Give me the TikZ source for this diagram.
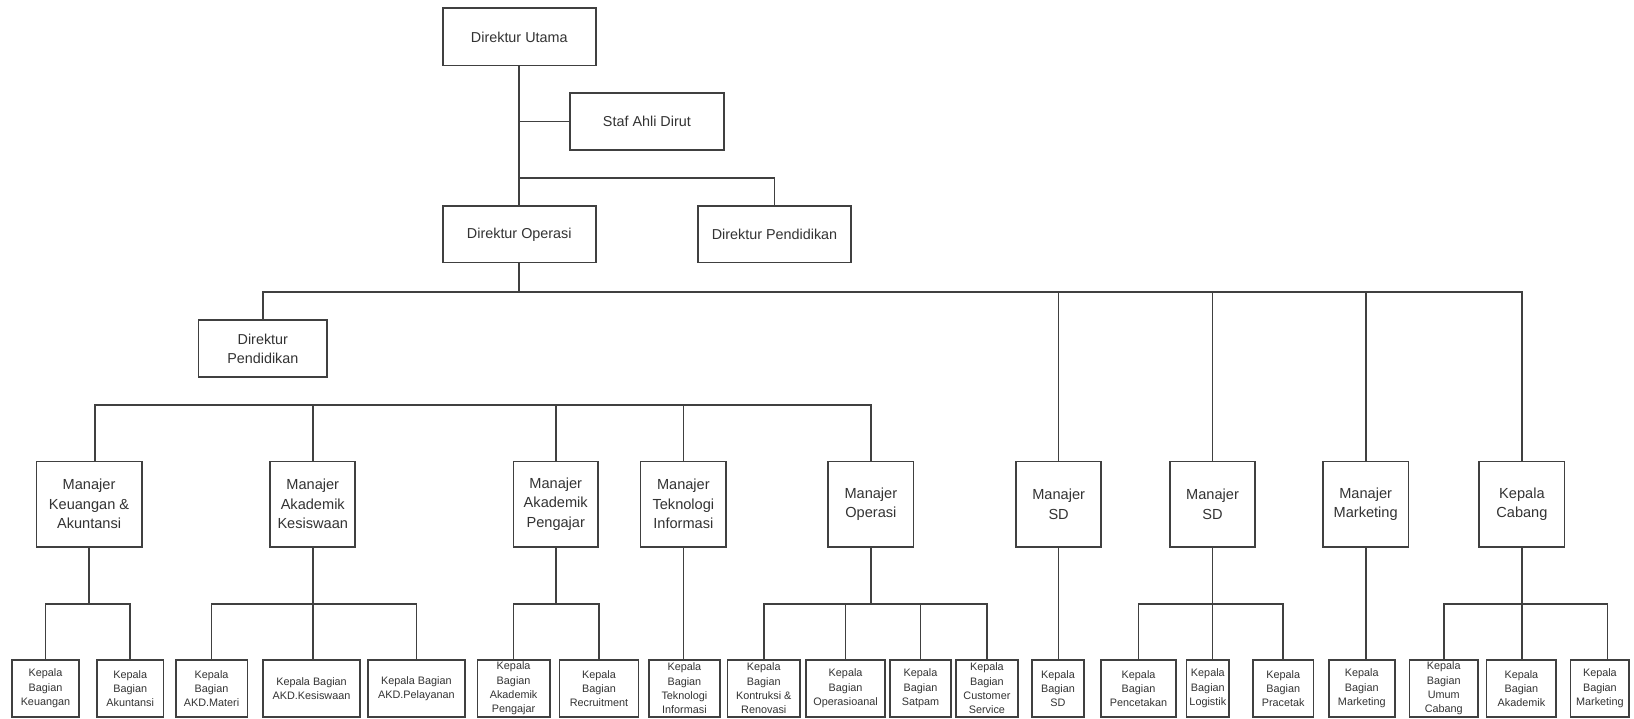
\documentclass[tikz,border=0pt]{standalone}
\usepackage{fontspec}
\setmainfont{Liberation Sans}
\tikzset{
  line/.style={draw=black!75, line width=1.6pt},
  box/.style={rectangle, draw=black!75, line width=1.6pt, fill=white, inner sep=0pt, align=center, text=black!80},
  topbox/.style={box, font=\fontsize{13.8}{18.2}\selectfont},
  mgr/.style={box, font=\fontsize{14}{18.7}\selectfont},
  kb/.style={box, font=\fontsize{10.4}{13.6}\selectfont},
}
\newcommand{\bx}[7]{\node[#1, minimum width={(#5)-(#3)}, minimum height={(#6)-(#4)}] (#2) at ({((#3)+(#5))/2},{((#4)+(#6))/2}) {#7};}
\begin{document}
\begin{tikzpicture}[x=1pt,y=-1pt]
\useasboundingbox (0,0) rectangle (1568.6,690.2);
% top level
\bx{topbox}{du}{425}{8}{572}{63}{Direktur Utama}
\bx{topbox}{staf}{547}{89}{695}{144}{Staf Ahli Dirut}
\bx{topbox}{dops}{425}{198}{572}{252}{Direktur Operasi}
\bx{topbox}{dpen}{670}{198}{817}{252}{Direktur Pendidikan}
\bx{topbox}{dpenb}{190.6}{307}{314}{362}{Direktur\\Pendidikan}
% managers
\bx{mgr}{mku}{35}{443}{136}{525}{Manajer\\Keuangan \&\\Akuntansi}
\bx{mgr}{mkes}{259.5}{443}{341}{525}{Manajer\\Akademik\\Kesiswaan}
\bx{mgr}{mpen}{493}{443}{574}{525}{Manajer\\Akademik\\Pengajar}
\bx{mgr}{mti}{615}{443}{697}{525}{Manajer\\Teknologi\\Informasi}
\bx{mgr}{mops}{795}{443}{877}{525}{Manajer\\Operasi}
\bx{mgr}{msda}{975.5}{443}{1057}{525}{Manajer\\SD}
\bx{mgr}{msdb}{1123}{443}{1205}{525}{Manajer\\SD}
\bx{mgr}{mmkt}{1270}{443}{1352}{525}{Manajer\\Marketing}
\bx{mgr}{kcab}{1420}{443}{1502}{525}{Kepala\\Cabang}
% bottom row
\bx{kb}{ka}{11.5}{633.6}{75.8}{688}{Kepala\\Bagian\\Keuangan}
\bx{kb}{kbb}{93}{633.6}{157}{688}{Kepala\\Bagian\\Akuntansi}
\bx{kb}{kc}{168.7}{633.6}{237.5}{688}{Kepala\\Bagian\\AKD.Materi}
\bx{kb}{kd}{252.5}{633.6}{345.6}{688}{Kepala Bagian\\AKD.Kesiswaan}
\bx{kb}{ke}{353}{633.6}{446.4}{688}{Kepala Bagian\\AKD.Pelayanan}
\bx{kb}{kf}{458.4}{633.6}{527.7}{688}{Kepala\\Bagian\\Akademik\\Pengajar}
\bx{kb}{kg}{537}{633.6}{613}{688}{Kepala\\Bagian\\Recruitment}
\bx{kb}{kh}{623}{633.6}{691}{688}{Kepala\\Bagian\\Teknologi\\Informasi}
\bx{kb}{ki}{698.4}{633.6}{768}{688}{Kepala\\Bagian\\Kontruksi \&\\Renovasi}
\bx{kb}{kj}{774}{633.6}{849.5}{688}{Kepala\\Bagian\\Operasioanal}
\bx{kb}{kk}{854.5}{633.6}{912.8}{688}{Kepala\\Bagian\\Satpam}
\bx{kb}{kl}{917.8}{633.6}{977}{688}{Kepala\\Bagian\\Customer\\Service}
\bx{kb}{km}{990.5}{633.6}{1040.8}{688}{Kepala\\Bagian\\SD}
\bx{kb}{kn}{1057}{633.6}{1129}{688}{Kepala\\Bagian\\Pencetakan}
\bx{kb}{ko}{1139}{633.6}{1180}{688}{Kepala\\Bagian\\Logistik}
\bx{kb}{kp}{1202.7}{633.6}{1261}{688}{Kepala\\Bagian\\Pracetak}
\bx{kb}{kq}{1275.5}{633.6}{1339}{688}{Kepala\\Bagian\\Marketing}
\bx{kb}{kr}{1353}{633.6}{1419}{688}{Kepala\\Bagian\\Umum\\Cabang}
\bx{kb}{ks}{1427}{633.6}{1494}{688}{Kepala\\Bagian\\Akademik}
\bx{kb}{kt}{1507.7}{633.6}{1564}{688}{Kepala\\Bagian\\Marketing}
% connectors: top
\draw[line] (du.south) -- (dops.north);
\draw[line] (du.south |- staf.west) -- (staf.west);
\coordinate (jdp) at (498.5,171);
\draw[line] (jdp) -| (dpen.north);
\coordinate (busL) at (252.3,280);
\draw[line] (dops.south) -- (dops.south |- busL);
\draw[line] (dpenb.north) |- (kcab.north |- busL) -- (kcab.north);
\foreach \n in {msda,msdb,mmkt} \draw[line] (\n.north) -- (\n.north |- busL);
% managers bus
\coordinate (mbL) at (91,389);
\draw[line] (mbL |- mku.north) -- (mbL) -| (mops.north);
\foreach \n in {mkes,mpen,mti} \draw[line] (\n.north) -- (\n.north |- mbL);
% sub buses
\coordinate (sb) at (0,580);
\draw[line] (mku.south) -- (mku.south |- sb);
\draw[line] (ka.north) |- (kbb.north |- sb) -- (kbb.north);
\draw[line] (mkes.south) -- (mkes.south |- kd.north);
\draw[line] (kc.north) |- (ke.north |- sb) -- (ke.north);
\draw[line] (mpen.south) -- (mpen.south |- sb);
\draw[line] (kf.north) |- (kg.north |- sb) -- (kg.north);
\draw[line] (mti.south) -- (mti.south |- kh.north);
\draw[line] (mops.south) -- (mops.south |- sb);
\draw[line] (ki.north) |- (kl.north |- sb) -- (kl.north);
\draw[line] (kj.north) -- (kj.north |- sb);
\draw[line] (kk.north) -- (kk.north |- sb);
\draw[line] (msda.south) -- (msda.south |- km.north);
\draw[line] (msdb.south) -- (msdb.south |- ko.north);
\draw[line] (kn.north) |- (kp.north |- sb) -- (kp.north);
\draw[line] (mmkt.south) -- (mmkt.south |- kq.north);
\draw[line] (kcab.south) -- (kcab.south |- ks.north);
\coordinate (ct) at (1543,580);
\draw[line] (kr.north) |- (ct) -- (ct |- kt.north);
\end{tikzpicture}
\end{document}
